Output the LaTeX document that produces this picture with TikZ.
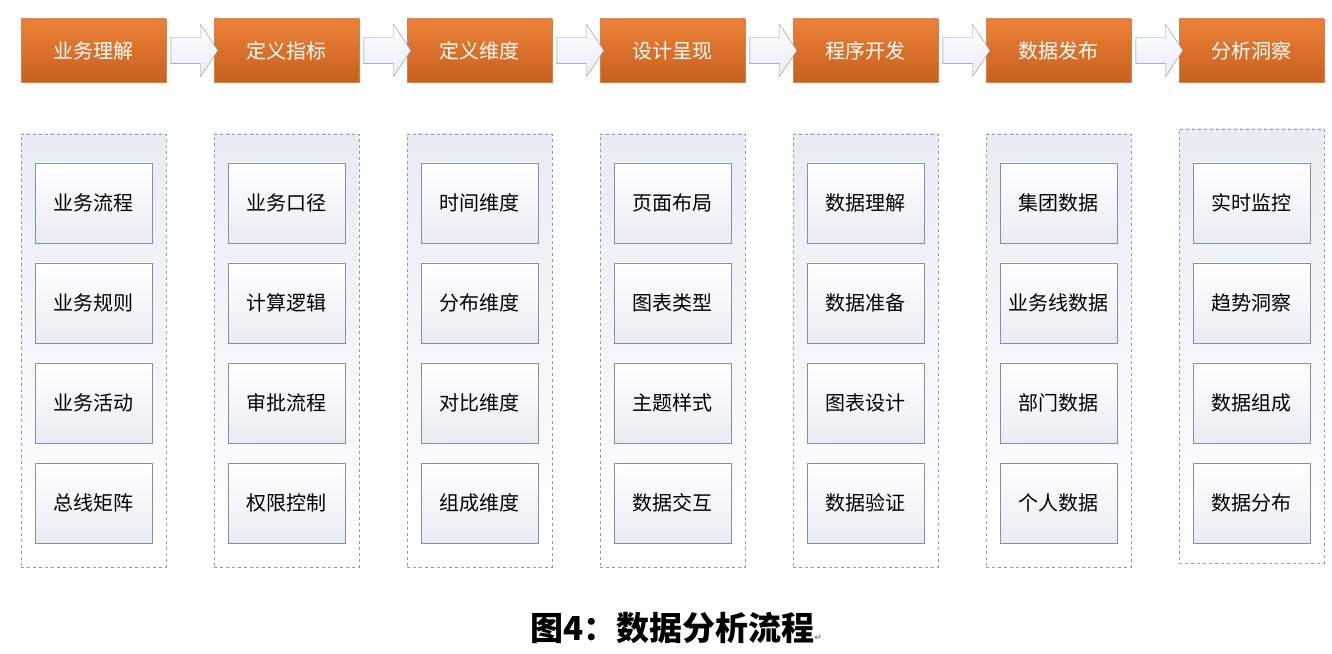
\documentclass[tikz,border=0pt]{standalone}
\usepackage{fontspec}
\usepackage{xcolor}
\usepackage{tikz}
\usetikzlibrary{shapes.arrows, positioning}
\newfontfamily\cjk{Noto Sans CJK SC}
\newfontfamily\symfont{DejaVu Sans}
\definecolor{stageTop}{RGB}{236,130,56}
\definecolor{stageBottom}{RGB}{200,96,30}
\definecolor{frameLine}{RGB}{140,156,180}
\definecolor{itemLine}{RGB}{125,145,170}
\definecolor{paleBlue}{RGB}{232,236,243}
\tikzstyle{stage} = [rectangle, minimum width=145pt, minimum height=63pt, inner sep=0pt, outer sep=0pt, top color=stageTop, bottom color=stageBottom, draw=stageBottom!80!white, text=white, font=\cjk\fontsize{20}{24}\selectfont]
\tikzstyle{flow} = [single arrow, minimum height=47pt, inner xsep=0pt, inner ysep=13pt, single arrow head extend=13pt, single arrow tip angle=113, draw=itemLine, top color=white, bottom color=paleBlue]
\tikzstyle{column} = [rectangle, minimum width=145pt, minimum height=433pt, inner sep=0pt, outer sep=0pt, dashed, draw=frameLine, top color=paleBlue, bottom color=white]
\tikzstyle{item} = [rectangle, minimum width=117pt, minimum height=80pt, inner sep=0pt, outer sep=0pt, draw=itemLine, top color=white, bottom color=paleBlue, font=\cjk\fontsize{20}{24}\selectfont]

\begin{document}
\begin{tikzpicture}[x=1pt, y=1pt]
		\useasboundingbox (0,0) rectangle (1332,653);
		% process steps
		\node (Business)[stage] at (93.5,602.5){业务理解};
		\node (Metric)[stage, right = 48pt of Business]{定义指标};
		\node (Dimension)[stage, right = 48pt of Metric]{定义维度};
		\node (Design)[stage, right = 48pt of Dimension]{设计呈现};
		\node (Develop)[stage, right = 48pt of Design]{程序开发};
		\node (Publish)[stage, right = 48pt of Develop]{数据发布};
		\node (Insight)[stage, right = 48pt of Publish]{分析洞察};
		\path (Business) -- (Metric) node[flow, midway]{};
		\path (Metric) -- (Dimension) node[flow, midway]{};
		\path (Dimension) -- (Design) node[flow, midway]{};
		\path (Design) -- (Develop) node[flow, midway]{};
		\path (Develop) -- (Publish) node[flow, midway]{};
		\path (Publish) -- (Insight) node[flow, midway]{};
		% columns
		\node (Business Box)[column, below = 52pt of Business]{};
		\node (Metric Box)[column, below = 52pt of Metric]{};
		\node (Dimension Box)[column, below = 52pt of Dimension]{};
		\node (Design Box)[column, below = 52pt of Design]{};
		\node (Develop Box)[column, below = 52pt of Develop]{};
		\node (Publish Box)[column, below = 52pt of Publish]{};
		\node (Insight Box)[column, minimum height=434pt, below = 47pt of Insight]{};
		% items
		\node (Business 1)[item, below = 29pt of Business Box.north]{业务流程};
		\node (Business 2)[item, below = 20pt of Business 1]{业务规则};
		\node (Business 3)[item, below = 20pt of Business 2]{业务活动};
		\node (Business 4)[item, below = 20pt of Business 3]{总线矩阵};
		\node (Metric 1)[item, below = 29pt of Metric Box.north]{业务口径};
		\node (Metric 2)[item, below = 20pt of Metric 1]{计算逻辑};
		\node (Metric 3)[item, below = 20pt of Metric 2]{审批流程};
		\node (Metric 4)[item, below = 20pt of Metric 3]{权限控制};
		\node (Dimension 1)[item, below = 29pt of Dimension Box.north]{时间维度};
		\node (Dimension 2)[item, below = 20pt of Dimension 1]{分布维度};
		\node (Dimension 3)[item, below = 20pt of Dimension 2]{对比维度};
		\node (Dimension 4)[item, below = 20pt of Dimension 3]{组成维度};
		\node (Design 1)[item, below = 29pt of Design Box.north]{页面布局};
		\node (Design 2)[item, below = 20pt of Design 1]{图表类型};
		\node (Design 3)[item, below = 20pt of Design 2]{主题样式};
		\node (Design 4)[item, below = 20pt of Design 3]{数据交互};
		\node (Develop 1)[item, below = 29pt of Develop Box.north]{数据理解};
		\node (Develop 2)[item, below = 20pt of Develop 1]{数据准备};
		\node (Develop 3)[item, below = 20pt of Develop 2]{图表设计};
		\node (Develop 4)[item, below = 20pt of Develop 3]{数据验证};
		\node (Publish 1)[item, below = 29pt of Publish Box.north]{集团数据};
		\node (Publish 2)[item, below = 20pt of Publish 1]{业务线数据};
		\node (Publish 3)[item, below = 20pt of Publish 2]{部门数据};
		\node (Publish 4)[item, below = 20pt of Publish 3]{个人数据};
		\node (Insight 1)[item, below = 34pt of Insight Box.north]{实时监控};
		\node (Insight 2)[item, below = 20pt of Insight 1]{趋势洞察};
		\node (Insight 3)[item, below = 20pt of Insight 2]{数据组成};
		\node (Insight 4)[item, below = 20pt of Insight 3]{数据分布};
		% caption
		\node (Caption) at (676,25){\cjk\bfseries\fontsize{33}{36}\selectfont 图4：数据分析流程{\symfont\fontsize{9}{10}\selectfont\color{gray}↵}};
	\end{tikzpicture}
\end{document}
